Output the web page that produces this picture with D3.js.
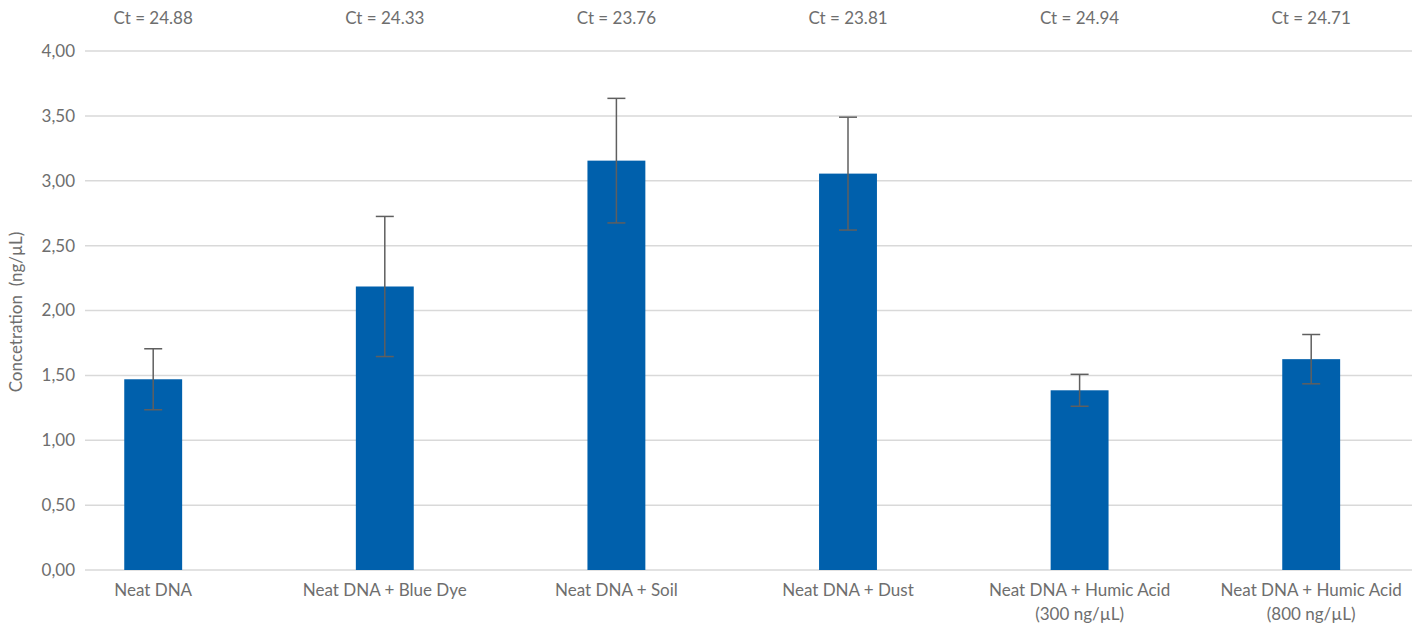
<!DOCTYPE html>
<html>
<head>
<meta charset="utf-8">
<script src="https://cdn.jsdelivr.net/npm/d3@7"></script>
<style>
  body { margin: 0; background: #fff; }
  text { font-family: Lato, "Noto Sans", sans-serif; fill: #6e6e6e; }
</style>
</head>
<body>
<svg></svg>
<script>
// Chart data
let categories = ['Neat DNA', 'Neat DNA + Blue Dye', 'Neat DNA + Soil', 'Neat DNA + Dust',
    'Neat DNA + Humic Acid\n(300 ng/µL)', 'Neat DNA + Humic Acid\n(800 ng/µL)'];
let concentration = [1.47, 2.185, 3.155, 3.055, 1.385, 1.625];
let errors = [0.235, 0.54, 0.48, 0.435, 0.123, 0.19];
let ctLabels = ['Ct = 24.88', 'Ct = 24.33', 'Ct = 23.76', 'Ct = 23.81', 'Ct = 24.94', 'Ct = 24.71'];
let yTicks = [0, 0.5, 1, 1.5, 2, 2.5, 3, 3.5, 4];

// SVG dimensions
let width = 1417, height = 628;
let gridLeft = 85, gridRight = 1412;

let svg = d3.select('svg')
    .attr('width', width)
    .attr('height', height);

// Scales
let xScale = d3.scaleBand()
    .domain(categories)
    .range([37.4, 1427])
    .paddingInner(0.75)
    .paddingOuter(0.375);

let yScale = d3.scaleLinear()
    .domain([0, 4])
    .range([570, 51]);

// Gridlines
svg.append('g')
    .selectAll('line')
    .data(yTicks)
    .enter()
    .append('line')
    .attr('x1', gridLeft)
    .attr('x2', gridRight)
    .attr('y1', (d) => yScale(d))
    .attr('y2', (d) => yScale(d))
    .attr('stroke', '#d9d9d9')
    .attr('stroke-width', 1.5);

// Y axis
let yAxis = d3.axisLeft(yScale)
    .tickValues(yTicks)
    .tickSize(0)
    .tickPadding(10)
    .tickFormat((d) => d3.format('.2f')(d).replace('.', ','));
svg.append('g')
    .attr('transform', `translate(${gridLeft}, 0)`)
    .call(yAxis)
    .call((g) => g.select('.domain').remove())
    .selectAll('text')
    .style('font-size', '17px')
    .style('font-family', 'Lato, sans-serif')
    .attr('fill', '#6e6e6e');

// Y axis title
svg.append('text')
    .attr('transform', 'translate(22, 312) rotate(-90)')
    .attr('text-anchor', 'middle')
    .attr('xml:space', 'preserve')
    .style('font-size', '17px')
    .text('Concetration  (ng/µL)');

// Bars
svg.selectAll('.bar')
    .data(concentration)
    .enter()
    .append('rect')
    .attr('class', 'bar')
    .attr('x', (d, i) => xScale(categories[i]))
    .attr('width', xScale.bandwidth())
    .attr('y', (d) => yScale(d))
    .attr('height', (d) => yScale(0) - yScale(d))
    .attr('fill', '#0060ac');

// Error bars
let errG = svg.append('g').attr('stroke', '#5f5f5f').attr('stroke-width', 1.5);
concentration.forEach((v, i) => {
    let cx = xScale(categories[i]) + xScale.bandwidth() / 2;
    let top = yScale(v + errors[i]), bottom = yScale(v - errors[i]);
    errG.append('line').attr('x1', cx).attr('x2', cx).attr('y1', top).attr('y2', bottom);
    errG.append('line').attr('x1', cx - 9).attr('x2', cx + 9).attr('y1', top).attr('y2', top);
    errG.append('line').attr('x1', cx - 9).attr('x2', cx + 9).attr('y1', bottom).attr('y2', bottom);
});

// Ct labels on top
svg.selectAll('.ct')
    .data(ctLabels)
    .enter()
    .append('text')
    .attr('class', 'ct')
    .attr('x', (d, i) => xScale(categories[i]) + xScale.bandwidth() / 2)
    .attr('y', 24)
    .attr('text-anchor', 'middle')
    .style('font-size', '17px')
    .text((d) => d);

// Category labels
let catLabels = svg.selectAll('.cat')
    .data(categories)
    .enter()
    .append('text')
    .attr('class', 'cat')
    .attr('x', (d) => xScale(d) + xScale.bandwidth() / 2)
    .attr('y', 596)
    .attr('text-anchor', 'middle')
    .style('font-size', '17px');

catLabels.each(function (d) {
    let lines = d.split('\n');
    let t = d3.select(this);
    lines.forEach((ln, j) => {
        t.append('tspan')
            .attr('x', t.attr('x'))
            .attr('dy', j === 0 ? 0 : 24)
            .text(ln);
    });
});
</script>
</body>
</html>
